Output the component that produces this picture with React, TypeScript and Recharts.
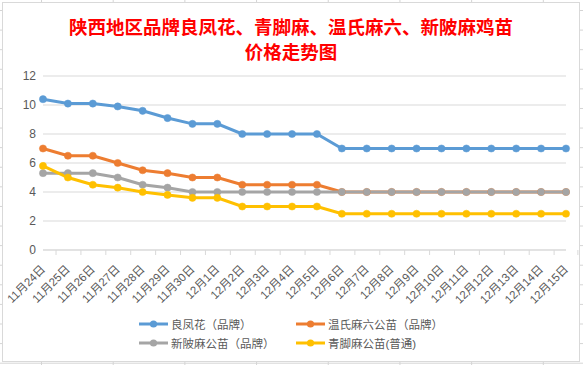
import { CartesianGrid, ComposedChart, Line, XAxis, YAxis } from "recharts";

const DATES = [
  "11月24日", "11月25日", "11月26日", "11月27日", "11月28日", "11月29日", "11月30日",
  "12月1日", "12月2日", "12月3日", "12月4日", "12月5日", "12月6日", "12月7日",
  "12月8日", "12月9日", "12月10日", "12月11日", "12月12日", "12月13日", "12月14日", "12月15日",
];

const LIANGFENGHUA = [10.4, 10.1, 10.1, 9.9, 9.6, 9.1, 8.7, 8.7, 8, 8, 8, 8, 7, 7, 7, 7, 7, 7, 7, 7, 7, 7];
const WENSHI = [7, 6.5, 6.5, 6, 5.5, 5.3, 5, 5, 4.5, 4.5, 4.5, 4.5, 4, 4, 4, 4, 4, 4, 4, 4, 4, 4];
const XINPI = [5.3, 5.3, 5.3, 5, 4.5, 4.3, 4, 4, 4, 4, 4, 4, 4, 4, 4, 4, 4, 4, 4, 4, 4, 4];
const QINGJIAO = [5.8, 5, 4.5, 4.3, 4, 3.8, 3.6, 3.6, 3, 3, 3, 3, 2.5, 2.5, 2.5, 2.5, 2.5, 2.5, 2.5, 2.5, 2.5, 2.5];

const Y_TICKS = [0, 2, 4, 6, 8, 10, 12];

const SERIES = [
  { key: "lfh", name: "良凤花（品牌）", color: "#5B9BD5", values: LIANGFENGHUA },
  { key: "ws", name: "温氏麻六公苗（品牌）", color: "#ED7D31", values: WENSHI },
  { key: "xp", name: "新陂麻公苗（品牌）", color: "#A5A5A5", values: XINPI },
  { key: "qj", name: "青脚麻公苗(普通)", color: "#FFC000", values: QINGJIAO },
];

const data = DATES.map((date, i) => {
  const row: Record<string, string | number> = { date };
  SERIES.forEach((s) => (row[s.key] = s.values[i]));
  return row;
});

const W = 583;
const H = 365;
const PLOT_LEFT = 43;
const PLOT_RIGHT = 17;
const BAND = (W - PLOT_LEFT - PLOT_RIGHT) / DATES.length;
const FONT = "'Liberation Sans', 'Noto Sans CJK SC', sans-serif";
const TEXT = "#595959";
const LINE = "#d9d9d9";

function DateTick(props: any) {
  const { x, y, payload } = props;
  const index = props.index ?? payload.index;
  const ty = y + 17;
  return (
    <g>
      <line x1={x - BAND / 2} y1={y} x2={x - BAND / 2} y2={y + 5} stroke={LINE} />
      {index === DATES.length - 1 && (
        <line x1={x + BAND / 2} y1={y} x2={x + BAND / 2} y2={y + 5} stroke={LINE} />
      )}
      <text
        x={x}
        y={ty}
        dy="0.35em"
        textAnchor="end"
        transform={`rotate(-45 ${x} ${ty})`}
        fill={TEXT}
        fontSize={11.5}
        fontFamily={FONT}
      >
        {payload.value}
      </text>
    </g>
  );
}

function Legend() {
  const rows = [
    [SERIES[0], SERIES[1]],
    [SERIES[2], SERIES[3]],
  ];
  const cols = [139, 296];
  return (
    <>
      {rows.map((row, r) =>
        row.map((s, c) => (
          <div
            key={s.key}
            style={{
              position: "absolute",
              left: cols[c],
              top: 324 + r * 18.5 - 9,
              height: 18,
              display: "flex",
              alignItems: "center",
              fontFamily: FONT,
              fontSize: 11.5,
              color: TEXT,
              whiteSpace: "nowrap",
            }}
          >
            <svg width={29} height={10} style={{ marginRight: 3 }}>
              <line x1={0} y1={5} x2={29} y2={5} stroke={s.color} strokeWidth={3} />
              <circle cx={14.5} cy={5} r={3.6} fill={s.color} />
            </svg>
            {s.name}
          </div>
        ))
      )}
    </>
  );
}

export default function App() {
  return (
    <div
      style={{
        position: "absolute",
        left: 0,
        top: 0,
        width: W,
        height: H,
        overflow: "hidden",
        background: "#fff",
        backgroundImage:
          "linear-gradient(to right, #d4d4d4 1px, transparent 1px), linear-gradient(to bottom, #d4d4d4 1px, transparent 1px)",
        backgroundSize: "71.7px 19.6px",
        backgroundPosition: "41px 10px",
      }}
    >
      <div
        style={{
          position: "absolute",
          left: 2,
          top: 2,
          width: 576,
          height: 358,
          border: `1px solid ${LINE}`,
          background: "#fff",
        }}
      />
      <div
        style={{
          position: "absolute",
          left: 0,
          top: 14,
          width: W - 1,
          textAlign: "center",
          color: "#FF0000",
          fontFamily: "'Noto Sans CJK SC', sans-serif",
          fontWeight: 700,
          fontSize: 18.5,
          lineHeight: "24.5px",
        }}
      >
        陕西地区品牌良凤花、青脚麻、温氏麻六、新陂麻鸡苗
        <br />
        价格走势图
      </div>
      <div style={{ position: "absolute", left: 0, top: 0 }}>
        <ComposedChart
          width={W}
          height={H}
          data={data}
          margin={{ top: 76, right: PLOT_RIGHT, bottom: 55, left: 0 }}
        >
          <CartesianGrid vertical={false} stroke={LINE} />
          <XAxis
            dataKey="date"
            interval={0}
            height={60}
            tickLine={false}
            tickSize={0}
            tickMargin={0}
            axisLine={{ stroke: LINE }}
            tick={<DateTick />}
          />
          <YAxis
            width={PLOT_LEFT}
            domain={[0, 12]}
            ticks={Y_TICKS}
            axisLine={false}
            tickLine={false}
            tickSize={0}
            tickMargin={7}
            tick={{ fill: TEXT, fontSize: 12, fontFamily: FONT }}
          />
          {SERIES.map((s) => (
            <Line
              key={s.key}
              dataKey={s.key}
              name={s.name}
              type="linear"
              stroke={s.color}
              strokeWidth={3}
              dot={{ r: 3.6, fill: s.color, stroke: s.color, strokeWidth: 0.5 }}
              activeDot={false}
              isAnimationActive={false}
            />
          ))}
        </ComposedChart>
      </div>
      <Legend />
    </div>
  );
}
